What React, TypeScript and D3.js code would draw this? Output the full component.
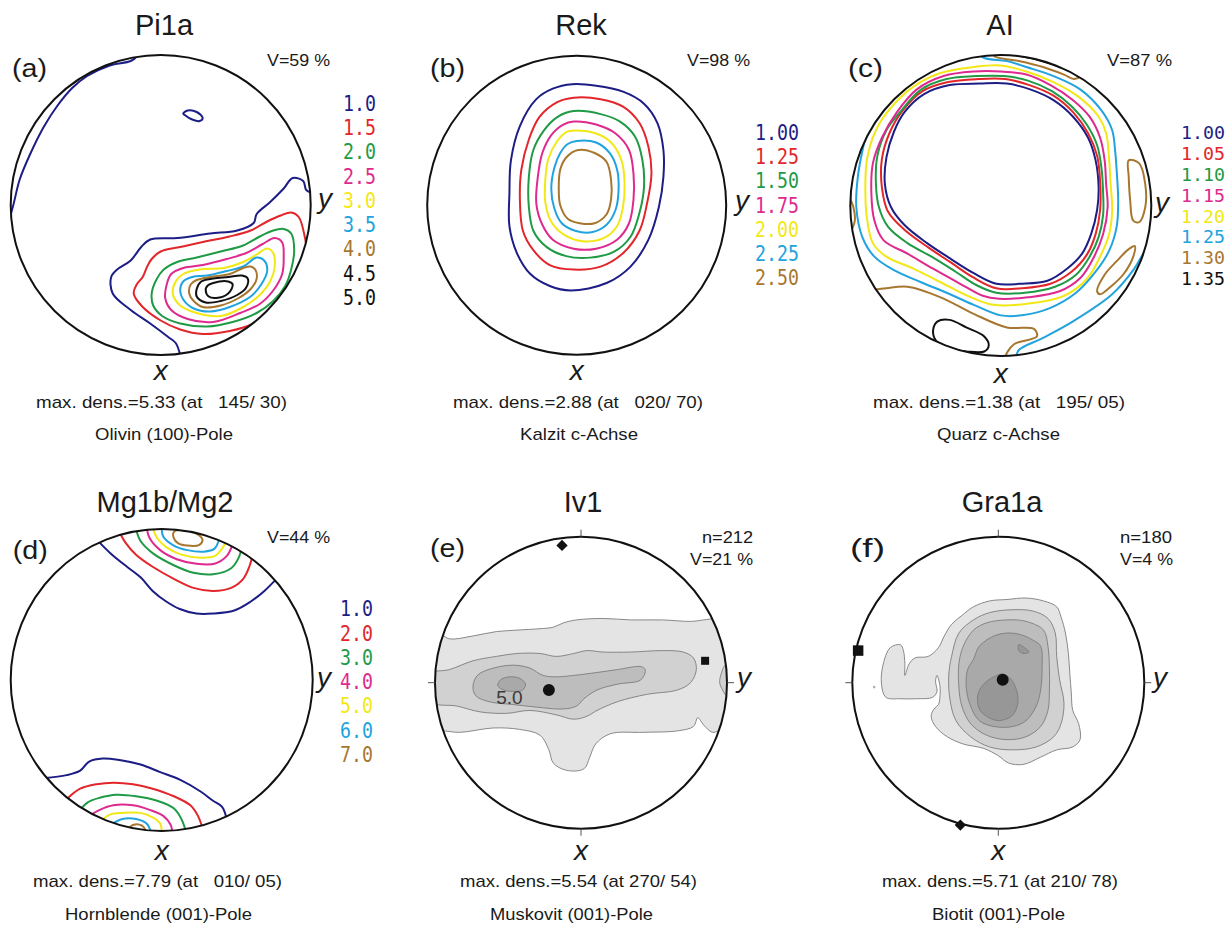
import React from "react";
import * as d3 from "d3";

type Pt = [number, number];
type Contour = { level: number; closed: boolean; pts: Pt[] };

// ---------------- text data ----------------
const panelLetters = ["(a)", "(b)", "(c)", "(d)", "(e)", "(f)"];
const panelTitles = ["Pi1a", "Rek", "AI", "Mg1b/Mg2", "Iv1", "Gra1a"];
const vLabels = ["V=59 %", "V=98 %", "V=87 %", "V=44 %", "V=21 %", "V=4 %"];
const nLabels = ["", "", "", "", "n=212", "n=180"];
const maxDensLabels = [
  "max. dens.=5.33 (at   145/ 30)",
  "max. dens.=2.88 (at   020/ 70)",
  "max. dens.=1.38 (at   195/ 05)",
  "max. dens.=7.79 (at   010/ 05)",
  "max. dens.=5.54 (at 270/ 54)",
  "max. dens.=5.71 (at 210/ 78)",
];
const captions = [
  "Olivin (100)-Pole",
  "Kalzit c-Achse",
  "Quarz c-Achse",
  "Hornblende (001)-Pole",
  "Muskovit (001)-Pole",
  "Biotit (001)-Pole",
];
const levelsA = ["1.0", "1.5", "2.0", "2.5", "3.0", "3.5", "4.0", "4.5", "5.0"];
const levelsB = ["1.00", "1.25", "1.50", "1.75", "2.00", "2.25", "2.50"];
const levelsC = ["1.00", "1.05", "1.10", "1.15", "1.20", "1.25", "1.30", "1.35"];
const levelsD = ["1.0", "2.0", "3.0", "4.0", "5.0", "6.0", "7.0"];
const levelColors = ["#1d1d86", "#e2262b", "#1f9a45", "#de2a8e", "#f2e816", "#20a3de", "#a8772f", "#111111", "#111111"];
const grayFills = ["#e4e4e4", "#d1d1d1", "#bdbdbd", "#a9a9a9", "#979797"];

// ---------------- contour data (unit disc, -100..100, v downward) ----------------
// (a) Pi1a
const A_BLUE_RIM: Pt[] = [[-15,-101],[-16,-99],[-20,-96],[-34,-93],[-49,-86],[-59,-78],[-69,-66],[-78,-52],[-87,-34],[-94,-17],[-98,-1],[-101,10]];
const A_BLUE_SPOT: Pt[] = [[15,-61],[18,-63],[24,-62],[28,-58],[26,-56],[21,-57],[16,-60]];
const A_BLUE_MAIN: Pt[] = [[101,-8],[97,-10],[95,-16],[88,-18],[82,-11],[73,-2],[64,6],[62,12],[51,17],[33,19],[11,22],[-7,23],[-13,28],[-20,37],[-29,43],[-33,48],[-32,59],[-20,70],[-7,79],[5,88],[10,92],[13,100]];
const A_RED: Pt[] = [[87,5],[92,8],[96,21],[97,30],[92,43],[84,59],[75,70],[62,79],[46,84],[28,86],[13,83],[0,77],[-12,68],[-18,59],[-16,53],[-12,48],[-9,41],[-6,36],[0,31],[13,28],[31,24],[46,21],[60,17],[71,11],[80,7]];
const A_GREEN: Pt[] = [[82,16],[87,19],[89,30],[87,43],[83,54],[75,64],[64,72],[48,78],[31,81],[13,79],[1,74],[-5,67],[-6,59],[-3,50],[2,43],[11,38],[24,35],[40,31],[55,27],[66,21],[75,17]];
const A_MAGENTA: Pt[] = [[76,22],[81,25],[82,35],[81,46],[75,57],[66,66],[53,72],[35,78],[18,76],[7,70],[3,62],[4,53],[7,46],[15,42],[28,40],[44,36],[57,32],[68,26]];
const A_YELLOW: Pt[] = [[71,29],[75,32],[76,41],[73,51],[66,60],[55,68],[40,74],[24,72],[13,67],[8,59],[10,51],[15,46],[26,43],[42,42],[55,38],[64,33]];
const A_CYAN: Pt[] = [[64,35],[69,37],[71,44],[67,53],[60,61],[46,68],[33,71],[22,69],[15,63],[13,57],[15,51],[21,48],[31,47],[44,44],[55,41]];
const A_BROWN: Pt[] = [[60,41],[63,43],[64,49],[60,56],[52,62],[40,67],[28,68],[22,64],[19,59],[20,53],[24,50],[33,48],[46,46],[55,42]];
const A_BLACK1: Pt[] = [[54,47],[58,49],[57,55],[51,60],[40,64],[30,65],[24,61],[24,56],[27,51],[35,49],[45,48]];
const A_BLACK2: Pt[] = [[31,54],[35,52],[45,51],[48,53],[45,59],[37,62],[32,61],[30,57]];

// (b) Rek
const B_C1: Pt[] = [[-3,-81],[13,-80],[31,-76],[45,-68],[54,-55],[58,-37],[58,-19],[55,1],[48,23],[36,41],[20,52],[-4,57],[-18,54],[-31,46],[-40,32],[-45,14],[-45,-8],[-44,-30],[-38,-53],[-27,-71],[-16,-78]];
const B_C2: Pt[] = [[-2,-72],[16,-71],[31,-66],[42,-55],[48,-39],[50,-21],[47,-1],[42,17],[31,32],[16,41],[-2,43],[-18,40],[-29,30],[-36,17],[-38,-4],[-37,-24],[-32,-44],[-25,-59],[-13,-69]];
const B_C3: Pt[] = [[-2,-63],[16,-61],[29,-56],[39,-46],[44,-30],[45,-12],[42,5],[36,21],[25,31],[9,35],[-7,34],[-20,28],[-29,17],[-32,1],[-32,-19],[-29,-37],[-22,-50],[-13,-59]];
const B_C4: Pt[] = [[-2,-56],[13,-54],[26,-48],[35,-37],[38,-21],[38,-4],[35,12],[27,23],[13,29],[-2,29],[-16,23],[-23,13],[-27,-1],[-26,-19],[-23,-35],[-17,-47],[-9,-54]];
const B_C5: Pt[] = [[-1,-50],[13,-48],[23,-42],[30,-30],[32,-15],[31,1],[27,14],[18,22],[4,24],[-8,20],[-17,11],[-21,-2],[-21,-17],[-19,-31],[-13,-43],[-7,-49]];
const B_C6: Pt[] = [[0,-43],[13,-42],[22,-35],[27,-24],[28,-10],[26,3],[20,13],[10,18],[-1,17],[-10,12],[-15,2],[-17,-11],[-15,-25],[-11,-35],[-6,-41]];
const B_C7: Pt[] = [[1,-37],[12,-35],[20,-29],[23,-17],[23,-4],[20,6],[12,12],[2,12],[-6,9],[-11,0],[-12,-12],[-11,-24],[-7,-32]];

// (c) Al
const C_BLUE: Pt[] = [[-64,-62],[-51,-74],[-34,-80],[-14,-81],[4,-81],[20,-77],[35,-70],[48,-59],[58,-45],[63,-30],[65,-12],[64,3],[60,19],[54,32],[44,42],[31,50],[13,52],[-3,52],[-18,45],[-34,35],[-49,25],[-64,13],[-73,1],[-77,-14],[-76,-32],[-71,-49]];
const C_RED: Pt[] = [[-66,-62],[-52,-76],[-35,-82],[-15,-84],[3,-84],[19,-80],[35,-73],[48,-62],[58,-48],[64,-33],[66,-16],[66,3],[63,19],[57,33],[47,44],[33,52],[14,55],[-3,55],[-18,48],[-33,38],[-48,28],[-63,17],[-75,4],[-79,-12],[-79,-31],[-74,-48]];
const C_GREEN: Pt[] = [[-67,-62],[-53,-77],[-36,-84],[-16,-86],[2,-86],[18,-83],[34,-76],[47,-66],[57,-54],[64,-40],[67,-24],[68,-8],[68,6],[65,21],[59,34],[50,46],[36,54],[16,58],[-3,58],[-16,53],[-30,44],[-46,34],[-62,25],[-75,14],[-81,1],[-83,-15],[-82,-33],[-76,-50]];
const C_MAGENTA: Pt[] = [[-69,-62],[-56,-77],[-38,-86],[-18,-89],[0,-89],[17,-87],[33,-80],[48,-70],[59,-59],[66,-45],[69,-30],[70,-14],[71,1],[68,19],[62,34],[53,48],[39,57],[18,61],[-1,62],[-12,60],[-27,52],[-45,42],[-62,32],[-78,23],[-84,10],[-86,-8],[-85,-28],[-79,-45]];
const C_YELLOW: Pt[] = [[-73,-65],[-58,-79],[-40,-88],[-18,-92],[0,-93],[17,-89],[35,-82],[52,-72],[65,-59],[70,-48],[72,-30],[73,-14],[74,3],[72,19],[66,34],[57,49],[42,60],[20,65],[-5,66],[-22,60],[-40,51],[-58,42],[-76,34],[-85,25],[-89,8],[-90,-10],[-89,-30],[-83,-50]];
const C_CYAN_RING: Pt[] = [[-11,-98],[4,-96],[17,-92],[35,-86],[53,-77],[67,-63],[74,-50],[76,-36],[77,-23],[78,-3],[77,14],[72,30],[63,44],[50,58],[33,68],[14,73],[0,73],[-18,66],[-36,58],[-53,51],[-71,43],[-84,34],[-92,21],[-96,1],[-95,-19],[-92,-36],[-87,-55],[-70,-80],[-45,-98],[-20,-104]];
const C_CYAN_OUTER: Pt[] = [[10,101],[12,96],[28,88],[48,77],[74,59],[88,43],[96,30],[100,26]];
const C_BROWN_TOP: Pt[] = [[-5,-101],[-4,-99],[12,-96],[28,-92],[42,-87],[49,-84],[53,-86],[55,-90]];
const C_BROWN_LENS1: Pt[] = [[85,-30],[92,-28],[96,-14],[96,1],[92,11],[88,10],[86,-3],[85,-19]];
const C_BROWN_LENS2: Pt[] = [[85,29],[89,27],[88,34],[82,45],[73,54],[66,59],[64,57],[69,46],[77,37]];
const C_BROWN_SW: Pt[] = [[-84,56],[-76,55],[-62,54],[-40,61],[-18,72],[4,81],[22,82],[24,87],[9,92],[4,98],[3,101]];
const C_BROWN_W: Pt[] = [[-101,-6],[-98,1],[-97,10],[-100,18]];
const C_BLACK_SW: Pt[] = [[-42,77],[-34,76],[-23,81],[-11,87],[-8,93],[-11,97],[-23,97],[-36,95],[-43,90],[-45,83]];
const C_BLACK_TOP: Pt[] = [[12,-99.5],[22,-97.5],[32,-94.5],[40,-91.5]];

// (d) Mg1b/Mg2
const D_N1: Pt[] = [[-43,-93],[-34,-84],[-23,-75],[-14,-68],[-6,-59],[3,-52],[12,-47],[23,-44],[34,-44],[48,-46],[59,-52],[68,-59],[76,-67]];
const D_N2: Pt[] = [[-28,-98],[-24,-91],[-17,-83],[-6,-75],[8,-67],[21,-61],[34,-59],[46,-61],[54,-67],[58,-75],[60,-82]];
const D_N3: Pt[] = [[-17,-100],[-14,-92],[-6,-84],[8,-76],[21,-71],[34,-70],[46,-74],[51,-81],[53,-88]];
const D_N4: Pt[] = [[-10,-101],[-8,-94],[-1,-86],[10,-80],[23,-77],[35,-77],[43,-82],[47,-90]];
const D_N5: Pt[] = [[-6,-101],[-3,-94],[3,-88],[13,-83],[26,-81],[35,-82],[40,-87],[43,-93]];
const D_N6: Pt[] = [[0,-101],[1,-95],[8,-89],[17,-86],[28,-85],[35,-87],[38,-93]];
const D_N7: Pt[] = [[8,-98],[14,-99.5],[23,-97],[27,-93],[25,-89.5],[17,-89],[11,-90.5],[8,-94]];
const D_S1: Pt[] = [[-78,65],[-63,63],[-54,60],[-48,54],[-39,52],[-28,53],[-14,56],[-1,61],[12,66],[26,74],[34,80],[40,84],[43,92]];
const D_S2: Pt[] = [[-63,79],[-54,72],[-43,69],[-32,68],[-19,69],[-6,72],[8,77],[19,83],[24,90],[27,98]];
const D_S3: Pt[] = [[-54,86],[-49,81],[-41,78],[-30,76],[-17,77],[-3,80],[8,85],[13,92],[16,100]];
const D_S4: Pt[] = [[-48,90],[-41,86],[-32,83],[-19,83],[-8,86],[1,90],[6,96],[7,101]];
const D_S5: Pt[] = [[-41,94],[-34,89],[-26,88],[-14,88],[-6,91],[-1,95],[0,101]];
const D_S6: Pt[] = [[-34,96],[-26,92],[-17,92],[-10,95],[-7,101]];
const D_S7: Pt[] = [[-23,100],[-19,96],[-13,96.5],[-10,101]];

// (e) Iv1 shaded levels
const E_S1: Pt[] = [[-112,-35],[-96,-33],[-90,-30],[-74,-32],[-58,-35],[-44,-36],[-28,-37],[-19,-38],[-12,-41],[-3,-43],[15,-44],[34,-43],[56,-43],[75,-42],[84,-43],[92,-44],[112,-45],[112,35],[95,33],[90,34],[84,29],[80,24],[77,30],[66,33],[43,34],[20,35],[10,42],[6,51],[2,59],[-10,60],[-19,55],[-22,46],[-28,36],[-42,32],[-60,31],[-83,34],[-96,33],[-112,35]];
const E_S2: Pt[] = [[-103,-6],[-90,-9],[-74,-15],[-58,-18],[-44,-20],[-28,-20],[-17,-18],[-5,-20],[4,-22],[15,-21],[34,-21],[56,-22],[70,-21],[77,-17],[79,-9],[75,0],[66,5],[45,8],[25,13],[11,19],[4,23],[-5,25],[-17,22],[-35,19],[-51,21],[-69,20],[-85,16],[-103,13]];
const E_S2R: Pt[] = [[99,-12],[96,-6],[95,0],[97,5],[100,9],[106,0]];
const E_S3: Pt[] = [[-74,3],[-71,-5],[-60,-10],[-46,-12],[-35,-10],[-26,-5],[-17,-4],[-5,-5],[11,-7],[25,-9],[41,-11],[44,-9],[41,-2],[25,1],[11,5],[2,11],[-3,16],[-12,18],[-28,17],[-46,15],[-63,13],[-72,9]];
const E_S4: Pt[] = [[-57,2],[-55,-2],[-49,-4],[-42,-3],[-38,1],[-40,5],[-45,6],[-53,5]];

// (f) Gra1a shaded levels
const F_S1: Pt[] = [[-32,-40],[-25,-46],[-17,-52],[-6,-56],[6,-57],[19,-58],[31,-56],[40,-52],[43,-45],[46,-34],[48,-20],[49,-6],[50,7],[51,19],[55,28],[56,39],[51,44],[40,46],[29,51],[17,56],[7,55],[0,50],[-10,45],[-24,42],[-35,37],[-43,30],[-46,23],[-44,18],[-41,15],[-40,10],[-40,2],[-42,-5],[-43,-1],[-42,6],[-45,10],[-56,11],[-67,11],[-77,10],[-80,1],[-79,-12],[-74,-24],[-67,-26],[-65,-22],[-64,-13],[-64,-5],[-61,-13],[-57,-17],[-48,-18],[-41,-24],[-37,-32]];
const F_S2: Pt[] = [[-32,-18],[-27,-34],[-17,-43],[-6,-48],[10,-50],[24,-49],[34,-44],[39,-34],[40,-18],[42,-2],[45,14],[43,28],[38,37],[26,44],[10,46],[-6,44],[-19,37],[-29,26],[-33,12],[-34,-4]];
const F_S3: Pt[] = [[-24,-25],[-17,-36],[-8,-41],[6,-43],[19,-42],[31,-36],[34,-25],[35,-11],[35,5],[34,19],[29,30],[19,37],[6,39],[-8,36],[-19,28],[-25,16],[-27,3],[-27,-13]];
const F_S4: Pt[] = [[-17,-16],[-13,-25],[-3,-32],[6,-34],[15,-33],[24,-29],[29,-25],[30,-11],[29,5],[26,16],[19,26],[10,30],[-3,30],[-13,26],[-19,16],[-22,3],[-21,-9]];
const F_S5: Pt[] = [[-14,8],[-10,1],[-3,-4],[3,-6],[9,-2],[13,7],[13,16],[9,23],[0,26],[-8,23],[-13,18]];
const F_S5B: Pt[] = [[14,-26],[18,-24],[21,-21],[17,-20],[14,-22]];
const F_SPECK: Pt = [-85, 3];

// markers
const E_DIAMOND: Pt = [-13, -94];
const E_SQUARE: Pt = [85, -15];
const E_DOT: Pt = [-22, 5];
const E_LABEL_50: Pt = [-49, 10];
const F_SQUARE: Pt = [-96, -22];
const F_DIAMOND: Pt = [-26, 97.5];
const F_DOT: Pt = [3, -2];

const contoursA: Contour[] = [
  { level: 0, closed: false, pts: A_BLUE_RIM },
  { level: 0, closed: true, pts: A_BLUE_SPOT },
  { level: 0, closed: false, pts: A_BLUE_MAIN },
  { level: 1, closed: true, pts: A_RED },
  { level: 2, closed: true, pts: A_GREEN },
  { level: 3, closed: true, pts: A_MAGENTA },
  { level: 4, closed: true, pts: A_YELLOW },
  { level: 5, closed: true, pts: A_CYAN },
  { level: 6, closed: true, pts: A_BROWN },
  { level: 7, closed: true, pts: A_BLACK1 },
  { level: 8, closed: true, pts: A_BLACK2 },
];
const contoursB: Contour[] = [B_C1, B_C2, B_C3, B_C4, B_C5, B_C6, B_C7].map((pts, i) => ({ level: i, closed: true, pts }));
const contoursC: Contour[] = [
  { level: 0, closed: true, pts: C_BLUE },
  { level: 1, closed: true, pts: C_RED },
  { level: 2, closed: true, pts: C_GREEN },
  { level: 3, closed: true, pts: C_MAGENTA },
  { level: 4, closed: true, pts: C_YELLOW },
  { level: 5, closed: true, pts: C_CYAN_RING },
  { level: 5, closed: false, pts: C_CYAN_OUTER },
  { level: 6, closed: false, pts: C_BROWN_TOP },
  { level: 6, closed: true, pts: C_BROWN_LENS1 },
  { level: 6, closed: true, pts: C_BROWN_LENS2 },
  { level: 6, closed: false, pts: C_BROWN_SW },
  { level: 6, closed: false, pts: C_BROWN_W },
  { level: 7, closed: true, pts: C_BLACK_SW },
  { level: 7, closed: false, pts: C_BLACK_TOP },
];
const contoursD: Contour[] = [
  ...[D_N1, D_N2, D_N3, D_N4, D_N5, D_N6].map((pts, i) => ({ level: i, closed: false, pts })),
  { level: 6, closed: true, pts: D_N7 },
  ...[D_S1, D_S2, D_S3, D_S4, D_S5, D_S6, D_S7].map((pts, i) => ({ level: i, closed: false, pts })),
];
const shadedE: Contour[] = [
  { level: 0, closed: true, pts: E_S1 },
  { level: 1, closed: true, pts: E_S2 },
  { level: 1, closed: true, pts: E_S2R },
  { level: 2, closed: true, pts: E_S3 },
  { level: 3, closed: true, pts: E_S4 },
];
const shadedF: Contour[] = [
  { level: 0, closed: true, pts: F_S1 },
  { level: 1, closed: true, pts: F_S2 },
  { level: 2, closed: true, pts: F_S3 },
  { level: 3, closed: true, pts: F_S4 },
  { level: 4, closed: true, pts: F_S5 },
  { level: 4, closed: true, pts: F_S5B },
];

// ---------------- layout ----------------
const FONT = "'Liberation Sans', Arial, Helvetica, sans-serif";
const MONO = "'DejaVu Sans Mono', 'Liberation Mono', monospace";

type Layout = {
  cx: number; cy: number; r: number;
  titleX: number; titleY: number;
  letterX: number; letterY: number;
  vX: number; vY: number; vW: number;
  nX: number; nY: number; nW: number;
  legX: number; legY0: number; legStep: number; legFont: number; legCharW: number;
  yLabX: number; yLabY: number; xLabY: number;
  mdX: number; mdW: number; mdY: number;
  capX: number; capW: number; capY: number;
  ticks: boolean;
};

const layouts: Layout[] = [
  { cx: 160.7, cy: 205, r: 150, titleX: 164, titleY: 35, letterX: 12, letterY: 77, vX: 267, vY: 66, vW: 63, nX: 0, nY: 0, nW: 0, legX: 343, legY0: 103, legStep: 24.25, legFont: 22, legCharW: 11, yLabX: 318, yLabY: 208, xLabY: 380, mdX: 161.5, mdW: 251, mdY: 408, capX: 164, capW: 138, capY: 440, ticks: false },
  { cx: 576.7, cy: 205.3, r: 149.5, titleX: 581, titleY: 35, letterX: 430, letterY: 77, vX: 687, vY: 66, vW: 63, nX: 0, nY: 0, nW: 0, legX: 755, legY0: 132, legStep: 24.2, legFont: 22, legCharW: 11, yLabX: 735, yLabY: 210, xLabY: 380, mdX: 578, mdW: 250, mdY: 408, capX: 579, capW: 118, capY: 440, ticks: false },
  { cx: 1000.8, cy: 205.5, r: 150.5, titleX: 1000, titleY: 35, letterX: 848, letterY: 77, vX: 1107, vY: 66, vW: 65, nX: 0, nY: 0, nW: 0, legX: 1181, legY0: 133, legStep: 20.8, legFont: 17.5, legCharW: 11, yLabX: 1155, yLabY: 212, xLabY: 383, mdX: 999, mdW: 252, mdY: 408, capX: 998.5, capW: 123, capY: 440, ticks: false },
  { cx: 161.7, cy: 680, r: 151, titleX: 165, titleY: 512, letterX: 12.7, letterY: 559, vX: 267, vY: 543, vW: 63, nX: 0, nY: 0, nW: 0, legX: 340, legY0: 608.3, legStep: 24.3, legFont: 22, legCharW: 11, yLabX: 317, yLabY: 687, xLabY: 860, mdX: 157.5, mdW: 249, mdY: 887, capX: 158.5, capW: 187, capY: 920, ticks: false },
  { cx: 581, cy: 682.7, r: 146, titleX: 583, titleY: 512, letterX: 430, letterY: 557, vX: 690, vY: 565, vW: 63, nX: 702, nY: 543, nW: 51, legX: 0, legY0: 0, legStep: 0, legFont: 22, legCharW: 11, yLabX: 737, yLabY: 687, xLabY: 860, mdX: 578.5, mdW: 237, mdY: 887, capX: 571.5, capW: 163, capY: 920, ticks: true },
  { cx: 998.3, cy: 682.7, r: 146, titleX: 1002, titleY: 512, letterX: 850, letterY: 557, vX: 1120, vY: 565, vW: 53, nX: 1120, nY: 543, nW: 52, legX: 0, legY0: 0, legStep: 0, legFont: 22, legCharW: 11, yLabX: 1153, yLabY: 687, xLabY: 860, mdX: 1000, mdW: 236, mdY: 887, capX: 998.5, capW: 133, capY: 920, ticks: true },
];

const panelContours: (Contour[] | null)[] = [contoursA, contoursB, contoursC, contoursD, null, null];
const panelShaded: (Contour[] | null)[] = [null, null, null, null, shadedE, shadedF];
const panelLegends: (string[] | null)[] = [levelsA, levelsB, levelsC, levelsD, null, null];

function Panel({ i }: { i: number }) {
  const L = layouts[i];
  const xs = d3.scaleLinear().domain([-100, 100]).range([L.cx - L.r, L.cx + L.r]);
  const ys = d3.scaleLinear().domain([-100, 100]).range([L.cy - L.r, L.cy + L.r]);
  const openLine = d3.line<Pt>().x((d) => xs(d[0])).y((d) => ys(d[1])).curve(d3.curveCatmullRom.alpha(0.5));
  const closedLine = d3.line<Pt>().x((d) => xs(d[0])).y((d) => ys(d[1])).curve(d3.curveCatmullRomClosed.alpha(0.5));
  const clipId = `clip-${i}`;
  const contours = panelContours[i];
  const shaded = panelShaded[i];
  const legend = panelLegends[i];
  const small = { fontFamily: FONT, fontSize: 17, fill: "#1a1a1a", whiteSpace: "pre" as const };

  const sq = (size: number) => d3.symbol().type(d3.symbolSquare).size(size)() || "";
  const dot = (size: number) => d3.symbol().type(d3.symbolCircle).size(size)() || "";

  return (
    <g>
      <defs>
        <clipPath id={clipId}>
          <circle cx={L.cx} cy={L.cy} r={L.r} />
        </clipPath>
      </defs>
      <g clipPath={`url(#${clipId})`}>
        {shaded &&
          shaded.map((c, k) => (
            <path key={k} d={closedLine(c.pts) || ""} fill={grayFills[c.level]} stroke="#7d7d7d" strokeWidth={0.9} />
          ))}
        {contours &&
          contours.map((c, k) => (
            <path
              key={k}
              d={(c.closed ? closedLine(c.pts) : openLine(c.pts)) || ""}
              fill="none"
              stroke={levelColors[c.level]}
              strokeWidth={2}
              strokeLinejoin="round"
            />
          ))}
        {i === 5 && <circle cx={xs(F_SPECK[0])} cy={ys(F_SPECK[1])} r={1.3} fill="#b0b0b0" />}
      </g>
      <circle cx={L.cx} cy={L.cy} r={L.r} fill="none" stroke="#111" strokeWidth={2} />
      {L.ticks && (
        <g stroke="#555" strokeWidth={1}>
          <line x1={L.cx} x2={L.cx} y1={L.cy - L.r - 7} y2={L.cy - L.r} />
          <line x1={L.cx} x2={L.cx} y1={L.cy + L.r} y2={L.cy + L.r + 7} />
          <line x1={L.cx - L.r - 7} x2={L.cx - L.r} y1={L.cy} y2={L.cy} />
          <line x1={L.cx + L.r} x2={L.cx + L.r + 7} y1={L.cy} y2={L.cy} />
        </g>
      )}
      {i === 4 && (
        <g>
          <text x={xs(E_LABEL_50[0])} y={ys(E_LABEL_50[1]) + 7} fontFamily={FONT} fontSize={19} fill="#3a3a3a" textAnchor="middle">5.0</text>
          <path d={dot(113)} transform={`translate(${xs(E_DOT[0])},${ys(E_DOT[1])})`} fill="#111" />
          <path d={sq(64)} transform={`translate(${xs(E_SQUARE[0])},${ys(E_SQUARE[1])})`} fill="#111" />
          <path d={sq(64)} transform={`translate(${xs(E_DIAMOND[0])},${ys(E_DIAMOND[1])}) rotate(45)`} fill="#111" />
        </g>
      )}
      {i === 5 && (
        <g>
          <path d={dot(113)} transform={`translate(${xs(F_DOT[0])},${ys(F_DOT[1])})`} fill="#111" />
          <path d={sq(110)} transform={`translate(${xs(F_SQUARE[0])},${ys(F_SQUARE[1])})`} fill="#111" />
          <path d={sq(64)} transform={`translate(${xs(F_DIAMOND[0])},${ys(F_DIAMOND[1])}) rotate(45)`} fill="#111" />
        </g>
      )}
      {/* texts */}
      <text x={L.titleX} y={L.titleY} fontFamily={FONT} fontSize={29} textAnchor="middle" fill="#1a1a1a">{panelTitles[i]}</text>
      <text x={L.letterX} y={L.letterY} fontFamily={FONT} fontSize={26} fill="#1a1a1a" textLength={35} lengthAdjust="spacingAndGlyphs">{panelLetters[i]}</text>
      {nLabels[i] && (
        <text x={L.nX} y={L.nY} style={small} textLength={L.nW} lengthAdjust="spacingAndGlyphs">{nLabels[i]}</text>
      )}
      <text x={L.vX} y={L.vY} style={small} textLength={L.vW} lengthAdjust="spacingAndGlyphs">{vLabels[i]}</text>
      <text x={L.yLabX} y={L.yLabY} fontFamily={FONT} fontSize={28} fontStyle="italic" fill="#1a1a1a">y</text>
      <text x={L.cx} y={L.xLabY} fontFamily={FONT} fontSize={28} fontStyle="italic" textAnchor="middle" fill="#1a1a1a">x</text>
      <text x={L.mdX - L.mdW / 2} y={L.mdY} style={small} textLength={L.mdW} lengthAdjust="spacingAndGlyphs">{maxDensLabels[i]}</text>
      <text x={L.capX - L.capW / 2} y={L.capY} style={small} textLength={L.capW} lengthAdjust="spacingAndGlyphs">{captions[i]}</text>
      {legend &&
        legend.map((s, k) => (
          <text
            key={k}
            x={L.legX}
            y={L.legY0 + k * L.legStep + L.legFont * 0.36}
            fontFamily={MONO}
            fontSize={L.legFont}
            fill={levelColors[k]}
            textLength={s.length * L.legCharW}
            lengthAdjust="spacingAndGlyphs"
          >
            {s}
          </text>
        ))}
    </g>
  );
}

export default function App() {
  return (
    <svg
      width={1231}
      height={926}
      viewBox="0 0 1231 926"
      style={{ position: "absolute", left: 0, top: 0, background: "#fff" }}
    >
      <rect x={0} y={0} width={1231} height={926} fill="#fff" />
      {[0, 1, 2, 3, 4, 5].map((i) => (
        <Panel key={i} i={i} />
      ))}
    </svg>
  );
}
